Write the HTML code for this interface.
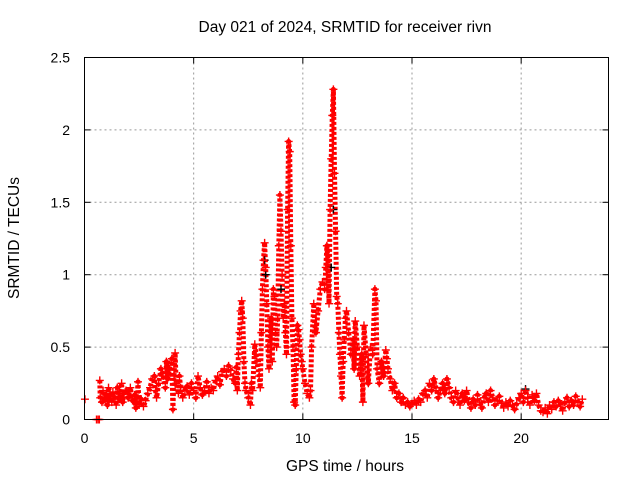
<!DOCTYPE html>
<html><head><meta charset="utf-8">
<style>
html,body{margin:0;padding:0;background:#fff;}
svg{display:block;font-family:"Liberation Sans",sans-serif;}
</style></head>
<body>
<svg id="chart" width="640" height="480" viewBox="0 0 640 480">
<text x="345" y="32" font-size="15.5" text-anchor="middle">Day 021 of 2024, SRMTID for receiver rivn</text>
<text x="345" y="471" font-size="15.5" text-anchor="middle">GPS time / hours</text>
<text transform="translate(19,238) rotate(-90)" font-size="15.5" text-anchor="middle">SRMTID / TECUs</text>
<g id="grid"></g><g id="axes"></g><g id="series"></g>
<rect x="84.5" y="57.5" width="524" height="362" fill="none" stroke="#000" stroke-width="1"/>
</svg>
<script>
const xTicks=[0,5,10,15,20];
const yTicks=[0,0.5,1,1.5,2,2.5];
const yTickLabels=["0","0.5","1","1.5","2","2.5"];
const tRed=[0.02,0.55,0.62,0.68,0.7,0.72,0.8,0.85,0.9,1.0,1.05,1.1,1.2,1.25,1.3,1.4,1.45,1.5,1.6,1.7,1.75,1.8,1.9,2.0,2.1,2.2,2.3,2.35,2.4,2.45,2.5,2.6,2.7,2.8,2.9,3.0,3.1,3.2,3.25,3.3,3.4,3.5,3.6,3.7,3.75,3.8,3.9,4.0,4.05,4.1,4.15,4.2,4.3,4.35,4.4,4.5,4.6,4.7,4.8,4.9,5.0,5.1,5.2,5.3,5.4,5.5,5.6,5.7,5.8,5.9,6.0,6.1,6.2,6.3,6.4,6.5,6.6,6.7,6.8,6.9,6.95,7.0,7.05,7.1,7.15,7.2,7.25,7.3,7.35,7.4,7.5,7.6,7.65,7.7,7.8,7.85,7.9,8.0,8.05,8.1,8.15,8.2,8.25,8.3,8.35,8.4,8.45,8.5,8.55,8.6,8.65,8.7,8.75,8.8,8.85,8.9,8.95,9.0,9.05,9.1,9.15,9.2,9.25,9.3,9.35,9.4,9.45,9.5,9.55,9.6,9.65,9.7,9.75,9.8,9.85,9.9,9.95,10.0,10.1,10.2,10.3,10.35,10.4,10.5,10.55,10.6,10.7,10.8,10.9,11.0,11.05,11.1,11.15,11.2,11.25,11.3,11.35,11.4,11.45,11.5,11.55,11.6,11.65,11.7,11.75,11.8,11.85,11.9,11.95,12.0,12.1,12.2,12.3,12.35,12.4,12.5,12.6,12.7,12.75,12.8,12.9,13.0,13.1,13.2,13.3,13.35,13.4,13.5,13.6,13.7,13.8,13.85,13.9,14.0,14.1,14.2,14.3,14.4,14.5,14.6,14.7,14.8,14.9,15.0,15.1,15.2,15.3,15.4,15.5,15.6,15.7,15.8,15.9,16.0,16.1,16.2,16.3,16.4,16.5,16.6,16.7,16.8,16.9,17.0,17.1,17.2,17.3,17.4,17.5,17.6,17.7,17.8,17.9,18.0,18.1,18.2,18.3,18.4,18.5,18.6,18.7,18.8,18.9,19.0,19.1,19.2,19.3,19.4,19.5,19.6,19.7,19.8,19.9,20.0,20.1,20.2,20.3,20.4,20.5,20.6,20.7,20.8,20.9,21.0,21.1,21.2,21.3,21.4,21.5,21.6,21.7,21.8,21.9,22.0,22.1,22.2,22.3,22.4,22.5,22.6,22.7,22.8];
const vRed=[0.14,0,0,0,0.27,0.15,0.12,0.2,0.14,0.17,0.1,0.22,0.15,0.12,0.19,0.16,0.1,0.22,0.14,0.25,0.12,0.18,0.2,0.15,0.22,0.13,0.17,0.08,0.12,0.26,0.1,0.14,0.09,0.13,0.18,0.22,0.28,0.3,0.2,0.15,0.25,0.35,0.3,0.22,0.4,0.28,0.35,0.42,0.07,0.3,0.46,0.25,0.18,0.3,0.22,0.15,0.2,0.23,0.17,0.25,0.2,0.15,0.3,0.22,0.17,0.2,0.26,0.18,0.22,0.2,0.27,0.3,0.24,0.33,0.35,0.3,0.37,0.34,0.28,0.25,0.36,0.2,0.45,0.6,0.75,0.82,0.7,0.4,0.25,0.2,0.15,0.1,0.25,0.2,0.52,0.45,0.4,0.3,0.22,0.6,0.9,1.1,1.22,1.05,0.8,0.5,0.35,0.55,0.7,0.4,0.9,0.85,0.6,0.5,0.7,1.2,1.55,1.3,1.0,0.7,0.8,0.6,0.45,1.45,1.92,1.85,1.2,0.7,0.5,0.12,0.1,0.35,0.65,0.62,0.55,0.45,0.4,0.35,0.25,0.18,0.15,0.2,0.5,0.8,0.65,0.6,0.75,0.9,0.95,0.9,1.05,1.2,1.1,0.8,1.45,1.8,2.1,2.28,1.7,1.3,0.85,0.8,0.6,0.45,0.3,0.15,0.4,0.55,0.7,0.75,0.6,0.45,0.55,0.35,0.68,0.5,0.3,0.45,0.12,0.65,0.45,0.25,0.5,0.45,0.9,0.82,0.35,0.25,0.4,0.3,0.48,0.42,0.35,0.28,0.2,0.25,0.15,0.18,0.12,0.15,0.1,0.12,0.09,0.11,0.13,0.1,0.14,0.12,0.18,0.2,0.15,0.25,0.2,0.28,0.22,0.15,0.2,0.25,0.18,0.28,0.22,0.15,0.12,0.2,0.15,0.1,0.18,0.13,0.2,0.12,0.08,0.14,0.1,0.17,0.12,0.08,0.15,0.18,0.12,0.2,0.15,0.1,0.13,0.16,0.11,0.08,0.12,0.09,0.13,0.1,0.07,0.11,0.15,0.18,0.12,0.2,0.15,0.1,0.17,0.13,0.18,0.1,0.06,0.05,0.08,0.04,0.1,0.07,0.12,0.09,0.13,0.1,0.06,0.12,0.15,0.09,0.13,0.1,0.16,0.12,0.09,0.14];
const tBlack=[8.25,8.3,9.0,11.4,11.3,20.2];
const vBlack=[1.1,1.0,0.9,1.45,1.05,0.21];

const NS="http://www.w3.org/2000/svg";
const L=84.5,R=608.5,T=57.5,B=419.5,XMAX=24,YMAX=2.5;
function xs(t){return L+(R-L)*t/XMAX;}
function ys(v){return B-(B-T)*v/YMAX;}
function mk(tag,attrs,parent){const e=document.createElementNS(NS,tag);for(const k in attrs)e.setAttribute(k,attrs[k]);parent.appendChild(e);return e;}
const grid=document.getElementById('grid'),axes=document.getElementById('axes'),series=document.getElementById('series');
xTicks.forEach(t=>{
  const x=xs(t);
  if(t>0){const g=mk('line',{x1:x,x2:x,y1:T,y2:B,stroke:'#999','stroke-dasharray':'2,3','stroke-width':1},grid);
  
  }
  mk('line',{x1:x,x2:x,y1:B,y2:B-6,stroke:'#000'},axes);
  mk('line',{x1:x,x2:x,y1:T,y2:T+6,stroke:'#000'},axes);
  const lb=mk('text',{x:x,y:443,'font-size':14,'text-anchor':'middle'},axes);lb.textContent=t;
  
  
});
yTicks.forEach((v,i)=>{
  const y=ys(v);
  if(v>0&&v<YMAX){const g=mk('line',{x1:L,x2:R,y1:y,y2:y,stroke:'#999','stroke-dasharray':'2,3','stroke-width':1},grid);
  
  }
  mk('line',{x1:L,x2:L+6,y1:y,y2:y,stroke:'#000'},axes);
  mk('line',{x1:R,x2:R-6,y1:y,y2:y,stroke:'#000'},axes);
  const lb=mk('text',{x:70,y:y+5,'font-size':14,'text-anchor':'end'},axes);lb.textContent=yTickLabels[i];
  
  
});
function plus(t,v,color,name){
  const x=xs(t),y=ys(v);
  const p=mk('path',{d:`M${x-4},${y}H${x+4}M${x},${y-4}V${y+4}`,stroke:color,'stroke-width':1.4,fill:'none'},series);
  
  
}
let d='';
for(let i=4;i<tRed.length;i++){d+=(i===4?'M':'L')+xs(tRed[i]).toFixed(1)+','+ys(vRed[i]).toFixed(1);}
const band=mk('path',{d:d,stroke:'#f00','stroke-width':5,fill:'none','stroke-linejoin':'round','stroke-dasharray':'3,2'},series);


tBlack.forEach((t,i)=>plus(t,vBlack[i],'#000','srmtid-point-black'));
tRed.forEach((t,i)=>plus(t,vRed[i],'#f00','srmtid-point'));
</script>
</body></html>
